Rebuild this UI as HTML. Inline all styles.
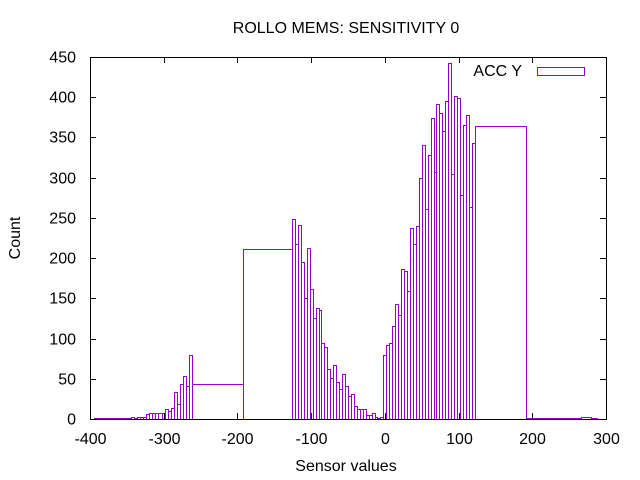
<!DOCTYPE html>
<html><head><meta charset="utf-8"><style>
body{margin:0;background:#fff;width:640px;height:480px;overflow:hidden}
svg{display:block;font-family:"Liberation Sans",sans-serif}
</style></head><body>
<svg id="chart" width="640" height="480">
<rect width="640" height="480" fill="#fff"/>
<text x="346" y="33" font-size="16" text-anchor="middle">ROLLO MEMS: SENSITIVITY 0</text>
<text x="346" y="471" font-size="16" text-anchor="middle">Sensor values</text>
<text transform="translate(20,238) rotate(-90)" font-size="16" text-anchor="middle">Count</text>
<g id="bars" shape-rendering="crispEdges"></g>
<g id="axes"></g>
<g>
<text x="522" y="76" font-size="16" text-anchor="end">ACC Y</text>
<rect x="537.5" y="67.5" width="47" height="8" fill="none" stroke="#9400d3" stroke-width="1" shape-rendering="crispEdges"/>
</g>
</svg>
<script>
// bin edges (data units) and counts
const binStarts = [-395, -345,-340.8,-336.6,-332.4,-328.2,-324,-319.8,-315.6,-311.4,-307.2,-303,-298.8,-294.6,-290.4,-286.2,-282,-277.8,-273.6,-269.4,-265.2, -261, -193];
const binEnds   = [-345, -340.8,-336.6,-332.4,-328.2,-324,-319.8,-315.6,-311.4,-307.2,-303,-298.8,-294.6,-290.4,-286.2,-282,-277.8,-273.6,-269.4,-265.2,-261, -193, -126];
const leftCounts = [1, 2,1,2,2,3,6,7,8,7,8,8,12,10,14,34,19,43,53,41,80, 44, 211];
const midStart = -126;
const midWidth = 4;
const midCounts = [249,218,241,195,150,212,162,125,138,135,95,90,62,51,67,46,37,56,41,28,31,16,13,13,13,5,5,7,2,1,2,
  80,92,95,115,143,129,186,184,159,237,217,240,300,340,261,328,374,307,391,381,358,395,443,304,402,399,278,366,378,264,343];
const rightStarts = [122, 191, 266, 279];
const rightEnds = [191, 266, 279, 288];
const rightCounts = [364, 1, 2, 1];
const xTicks = [-400,-300,-200,-100,0,100,200,300];
const yTicks = [0,50,100,150,200,250,300,350,400,450];

const L=90,R=606,T=57,B=419;
const xs = v => L + (v+400)/700*(R-L);
const ys = v => B - v/450*(B-T);
const NS="http://www.w3.org/2000/svg";
const bars=document.getElementById('bars'), axes=document.getElementById('axes');
function box(a,b,c){
  const x1=Math.round(xs(a))+0.5, x2=Math.round(xs(b))+0.5, y=Math.round(ys(c))+0.5;
  const r=document.createElementNS(NS,'rect');
  r.setAttribute('x',x1);r.setAttribute('y',y);
  r.setAttribute('width',Math.max(0,x2-x1));r.setAttribute('height',Math.max(0,B+0.5-y));
  r.setAttribute('fill','none');r.setAttribute('stroke','#9400d3');r.setAttribute('stroke-width','1');
  
  
  bars.appendChild(r);
}
leftCounts.forEach((c,i)=>box(binStarts[i],binEnds[i],c));
midCounts.forEach((c,i)=>box(midStart+i*midWidth,midStart+(i+1)*midWidth,c));
rightCounts.forEach((c,i)=>box(rightStarts[i],rightEnds[i],c));
function line(x1,y1,x2,y2){
  const l=document.createElementNS(NS,'line');
  l.setAttribute('x1',x1);l.setAttribute('y1',y1);l.setAttribute('x2',x2);l.setAttribute('y2',y2);
  l.setAttribute('stroke','#000');l.setAttribute('stroke-width','1');
  l.setAttribute('shape-rendering','crispEdges');
  
  
  axes.appendChild(l);
}
function text(x,y,s,anchor,name){
  const t=document.createElementNS(NS,'text');
  t.setAttribute('x',x);t.setAttribute('y',y);t.setAttribute('font-size','16');t.setAttribute('text-anchor',anchor);
  t.textContent=s;
  
  
  axes.appendChild(t);
}
const r=document.createElementNS(NS,'rect');
r.setAttribute('x',L+0.5);r.setAttribute('y',T+0.5);r.setAttribute('width',R-L);r.setAttribute('height',B-T);
r.setAttribute('fill','none');r.setAttribute('stroke','#000');
r.setAttribute('shape-rendering','crispEdges');


axes.appendChild(r);
xTicks.forEach(v=>{const x=Math.round(xs(v))+0.5;line(x,B,x,B-6);line(x,T,x,T+6);text(x,444,String(v),'middle','x-tick-label');});
yTicks.forEach(v=>{const y=Math.round(ys(v))+0.5;line(L,y,L+6,y);line(R,y,R-6,y);text(L-14,y+5,String(v),'end','y-tick-label');});
</script>
</body></html>
